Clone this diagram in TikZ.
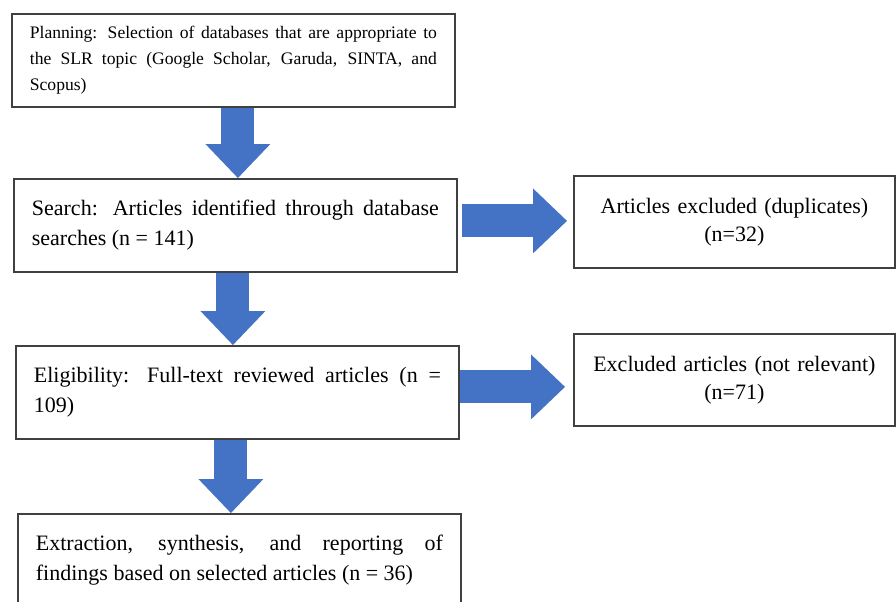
\documentclass[tikz,border=0pt]{standalone}
\usepackage{fontspec}
\setmainfont{Liberation Serif}
\usetikzlibrary{arrows.meta}

\definecolor{boxline}{HTML}{404040}
\definecolor{arrowblue}{HTML}{4472C4}

\tikzset{
  stage/.style={draw=boxline, line width=0.9pt, anchor=north west,
    text width=203.5pt, inner xsep=9pt, minimum height=46.5pt,
    align=justify, font=\fontsize{11}{15}\selectfont},
  outcome/.style={draw=boxline, line width=0.9pt, anchor=north west,
    text width=144.5pt, inner xsep=8pt, minimum height=46pt,
    align=center, font=\fontsize{11}{14}\selectfont},
  flow/.style={draw=arrowblue, line width=16.5pt,
    -{Triangle[width=32.5pt,length=17pt,line width=0pt]}}
}

\begin{document}
\begin{tikzpicture}[x=0.5pt, y=-0.5pt]
\useasboundingbox (0,0) rectangle (896,601);

% Main stages
\node[stage, font=\fontsize{8.8}{13}\selectfont] (plan) at (11,13)
    {Planning: Selection of databases that are appropriate to\linebreak
     the SLR topic (Google Scholar, Garuda, SINTA, and\linebreak Scopus)};
\node[stage] (search) at (13,178)
    {Search: Articles identified through database\linebreak searches (n = 141)};
\node[stage] (elig) at (15,345)
    {Eligibility: Full-text reviewed articles (n =\linebreak 109)};
\node[stage] (final) at (17,513)
    {Extraction, synthesis, and reporting of\linebreak
     findings based on selected articles (n = 36)};

% Excluded
\node[outcome] (dup) at (573,175)
    {Articles excluded (duplicates)\\(n=32)};
\node[outcome] (notrel) at (573,333)
    {Excluded articles (not relevant)\\(n=71)};

% Block arrows
\draw[flow] ([xshift=2.25pt]plan.south) -- ([xshift=2.25pt]plan.south |- search.north);
\draw[flow] ([xshift=-1.25pt]search.south) -- ([xshift=-1.25pt]search.south |- elig.north);
\draw[flow] ([xshift=-3.25pt]elig.south) -- ([xshift=-3.25pt]elig.south |- final.north);
\draw[flow, shorten <=2pt, shorten >=3pt]
    ([yshift=2.25pt]search.east) -- ([yshift=2.25pt]search.east -| dup.west);
\draw[flow, shorten >=4pt]
    ([yshift=2.75pt]elig.east) -- ([yshift=2.75pt]elig.east -| notrel.west);
\end{tikzpicture}
\end{document}
